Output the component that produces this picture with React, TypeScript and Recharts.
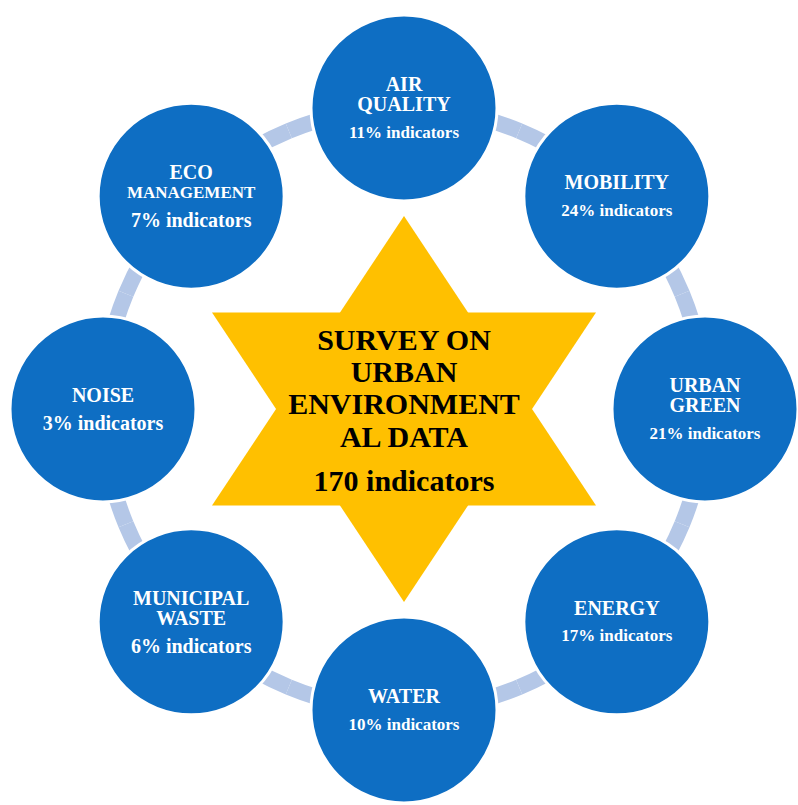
import React from "react";
import { PieChart, Pie, Cell } from "recharts";

// ---- data ----
const categoryLines: string[][] = [
  ["AIR", "QUALITY"],
  ["MOBILITY"],
  ["URBAN", "GREEN"],
  ["ENERGY"],
  ["WATER"],
  ["MUNICIPAL", "WASTE"],
  ["NOISE"],
  ["ECO", "MANAGEMENT"],
];
const sharePercents = [11, 24, 21, 17, 10, 6, 3, 7];
const centerTitleLines = ["SURVEY ON", "URBAN", "ENVIRONMENT", "AL DATA"];
const totalIndicators = 170;

// equal layout weight per category (circles are all the same size)
const ringData = categoryLines.map((lines, i) => ({
  name: lines.join(" "),
  share: sharePercents[i],
  weight: 1,
}));
const centerData = [{ name: centerTitleLines.join(" "), value: totalIndicators }];

// ---- styles ----
const W = 798;
const H = 805;
const CX = 404;
const CY = 409;
const RING_R = 301;
const BUBBLE_R = 93;
const BLUE = "#0E6EC3";
const RING = "#B4C7E7";
const GOLD = "#FFC000";
const FONT = "'Liberation Serif', 'Times New Roman', 'DejaVu Serif', serif";
const RAD = Math.PI / 180;

const txtStyle = (size: number, color: string): React.CSSProperties => ({
  fontFamily: FONT,
  fontWeight: 700,
  fontSize: size,
  fill: color,
});

const BubbleLabel = (props: any) => {
  const { cx, cy, midAngle, index } = props;
  const x = cx + RING_R * Math.cos(-midAngle * RAD);
  const y = cy + RING_R * Math.sin(-midAngle * RAD);
  const lines = categoryLines[index];
  const pct = `${sharePercents[index]}% indicators`;
  const pctSize = pct.length <= 13 ? 20 : 17;
  const labelOffsets = lines.length === 2 ? [-24, -4] : [-14];
  const pctOffset = lines.length === 2 ? 24 : 14;
  return (
    <g>
      <circle cx={x} cy={y} r={BUBBLE_R} fill={BLUE} stroke="#ffffff" strokeWidth={3} />
      {lines.map((ln, k) => (
        <text
          key={k}
          x={x}
          y={y + labelOffsets[k]}
          textAnchor="middle"
          dominantBaseline="central"
          style={txtStyle(ln.length > 9 ? 17 : 20, "#ffffff")}
        >
          {ln}
        </text>
      ))}
      <text
        x={x}
        y={y + pctOffset}
        textAnchor="middle"
        dominantBaseline="central"
        style={txtStyle(pctSize, "#ffffff")}
      >
        {pct}
      </text>
    </g>
  );
};

const StarLabel = (props: any) => {
  const { cx, cy, value } = props;
  const hh = 193; // half height of star
  const hw = 192; // half width of star
  const sy = 96.5; // side points vertical offset
  const up = `${cx},${cy - hh} ${cx + hw},${cy + sy} ${cx - hw},${cy + sy}`;
  const down = `${cx},${cy + hh} ${cx + hw},${cy - sy} ${cx - hw},${cy - sy}`;
  const offs = [-70, -37.5, -5.5, 27];
  return (
    <g>
      <polygon points={up} fill={GOLD} />
      <polygon points={down} fill={GOLD} />
      {centerTitleLines.map((ln, k) => (
        <text
          key={k}
          x={cx}
          y={cy + offs[k]}
          textAnchor="middle"
          dominantBaseline="central"
          style={txtStyle(30, "#000000")}
        >
          {ln}
        </text>
      ))}
      <text
        x={cx}
        y={cy + 71}
        textAnchor="middle"
        dominantBaseline="central"
        style={txtStyle(30, "#000000")}
      >
        {`${value} indicators`}
      </text>
    </g>
  );
};

export default function App() {
  return (
    <div style={{ position: "absolute", left: 0, top: 0, width: W, height: H, background: "#ffffff" }}>
      <PieChart width={W} height={H} margin={{ top: 0, right: 0, bottom: 0, left: 0 }}>
        <Pie
          data={centerData}
          dataKey="value"
          cx={CX}
          cy={CY}
          innerRadius={0}
          outerRadius={1}
          fill="none"
          stroke="none"
          label={StarLabel}
          labelLine={false}
          isAnimationActive={false}
        />
        <Pie
          data={ringData}
          dataKey="weight"
          cx={CX}
          cy={CY}
          startAngle={112.5}
          endAngle={-247.5}
          innerRadius={RING_R - 8}
          outerRadius={RING_R + 8}
          paddingAngle={0}
          stroke="none"
          label={BubbleLabel}
          labelLine={false}
          isAnimationActive={false}
        >
          {ringData.map((d, i) => (
            <Cell key={i} fill={RING} stroke="none" />
          ))}
        </Pie>
      </PieChart>
    </div>
  );
}
